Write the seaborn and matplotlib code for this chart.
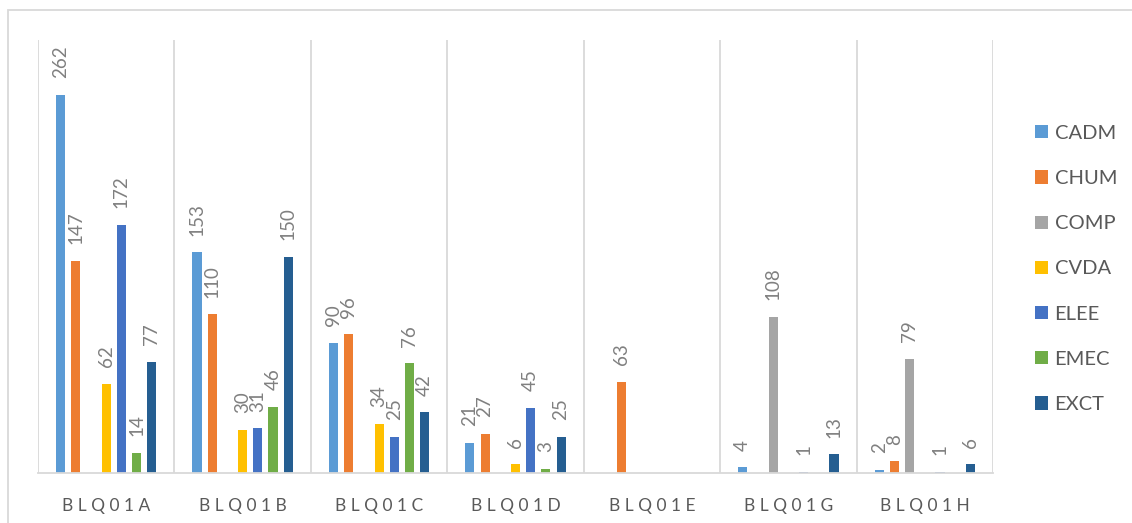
import matplotlib
matplotlib.use("Agg")
import matplotlib.pyplot as plt
from matplotlib.patches import Rectangle, Patch
import pandas as pd
import seaborn as sns

blocks = ["BLQ01A", "BLQ01B", "BLQ01C", "BLQ01D", "BLQ01E", "BLQ01G", "BLQ01H"]
programs = ["CADM", "CHUM", "COMP", "CVDA", "ELEE", "EMEC", "EXCT"]

cadm = [262, 153, 90, 21, None, 4, 2]
chum = [147, 110, 96, 27, 63, None, 8]
comp = [None, None, None, None, None, 108, 79]
cvda = [62, 30, 34, 6, None, None, None]
elee = [172, 31, 25, 45, None, 1, 1]
emec = [14, 46, 76, 3, None, None, None]
exct = [77, 150, 42, 25, None, 13, 6]

colors = ["#5B9BD5", "#ED7D31", "#A5A5A5", "#FFC000", "#4472C4", "#70AD47", "#255E91"]

series = dict(zip(programs, [cadm, chum, comp, cvda, elee, emec, exct]))
rows = []
for prog, vals in series.items():
    for blk, v in zip(blocks, vals):
        if v is not None:
            rows.append({"block": blk, "program": prog, "count": v})
df = pd.DataFrame(rows)

sns.set_style("white")
plt.rcParams["font.family"] = ["Lato", "DejaVu Sans"]

fig = plt.figure(figsize=(11.32, 5.23), dpi=100)
ax = fig.add_axes([38 / 1132, 1 - 473 / 523, (993 - 38) / 1132, (473 - 40) / 523])

sns.barplot(data=df, x="block", y="count", hue="program",
            order=blocks, hue_order=programs, palette=colors, saturation=1,
            width=0.78, gap=0.4, errorbar=None, legend=False, ax=ax,
            linewidth=0)

for cont in ax.containers:
    ax.bar_label(cont, fmt="%g", rotation=90, padding=12,
                 color="#808080", fontsize=13.5)

ax.set_xlim(-0.5, len(blocks) - 0.5)
ax.set_ylim(0, 300)
ax.set_xlabel("")
ax.set_ylabel("")
ax.set_yticks([])
ax.set_xticks(range(len(blocks)))
ax.set_xticklabels([" ".join(b) for b in blocks], color="#595959", fontsize=12.5)
ax.tick_params(axis="x", length=0, pad=18)
ax.set_xticks([i - 0.5 for i in range(len(blocks) + 1)], minor=True)
ax.tick_params(axis="x", which="minor", length=0)
ax.grid(which="minor", axis="x", color="#D9D9D9", linewidth=1.3)
ax.set_axisbelow(True)
for side in ["top", "left", "right"]:
    ax.spines[side].set_visible(False)
ax.spines["bottom"].set_color("#D9D9D9")
ax.spines["bottom"].set_linewidth(1.3)

handles = [Patch(facecolor=c, edgecolor="none") for c in colors]
fig.legend(handles, programs, loc="center left",
           bbox_to_anchor=(1027 / 1132, 1 - 269 / 523), frameon=False,
           fontsize=14.5, labelcolor="#595959", handlelength=0.62,
           handleheight=0.62, handletextpad=0.35, labelspacing=1.4,
           borderaxespad=0)

fig.patches.append(Rectangle((8 / 1132, -0.1), 1.2, 1.1 - 10 / 523,
                             transform=fig.transFigure, fill=False,
                             edgecolor="#D9D9D9", linewidth=1.3))

fig.savefig("out.png", dpi=100)
